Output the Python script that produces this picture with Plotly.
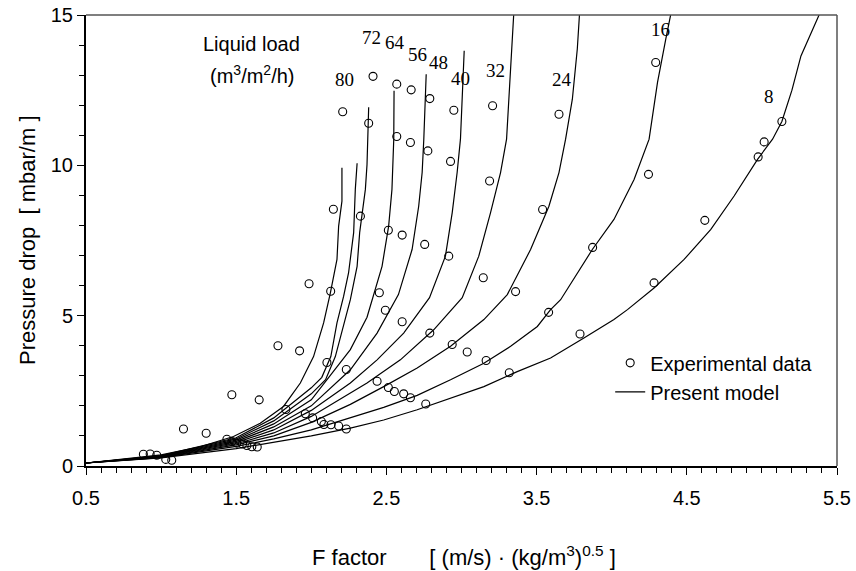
import plotly.graph_objects as go

# ---------------- data ----------------
# Experimental data (F factor, pressure drop)
exp_F = [0.882, 0.927, 0.971, 1.031, 1.071, 1.149, 1.30, 1.438, 1.471, 1.504, 1.542, 1.571, 1.604, 1.64,
         1.471, 1.653, 1.778, 1.922, 1.831, 1.96, 2.009, 2.067, 2.084, 2.131, 2.182, 2.233,
         2.104, 2.233, 1.985, 2.129, 2.147, 2.327, 2.209, 2.382,
         2.411, 2.569, 2.665, 2.789, 2.949, 3.207, 2.569,
         2.66, 2.776, 2.927, 3.187, 3.54,
         4.293, 3.649, 5.133, 5.015, 4.975, 4.245, 4.62, 4.282,
         2.513, 2.605, 2.755, 2.915, 3.145, 3.36, 3.873, 3.58,
         2.453, 2.493, 2.605, 2.789, 3.789,
         2.938, 3.038, 3.164, 3.318,
         2.438, 2.513, 2.553, 2.615, 2.66, 2.762]
exp_dP = [0.39, 0.40, 0.36, 0.22, 0.19, 1.23, 1.09, 0.89, 0.81, 0.76, 0.73, 0.68, 0.64, 0.63,
          2.37, 2.20, 4.00, 3.83, 1.88, 1.74, 1.60, 1.48, 1.38, 1.37, 1.33, 1.23,
          3.44, 3.21, 6.06, 5.81, 8.54, 8.31, 11.78, 11.40,
          12.96, 12.70, 12.51, 12.22, 11.83, 11.98, 10.96,
          10.76, 10.48, 10.13, 9.48, 8.53,
          13.42, 11.70, 11.46, 10.78, 10.28, 9.70, 8.17, 6.09,
          7.84, 7.68, 7.37, 6.98, 6.26, 5.80, 7.27, 5.11,
          5.76, 5.18, 4.80, 4.42, 4.39,
          4.04, 3.79, 3.51, 3.10,
          2.82, 2.61, 2.48, 2.40, 2.27, 2.06]

# Model curves, one per liquid load (m3/m2/h)
f8 = [0.5, 1.0, 1.5, 1.75, 2.0, 2.26, 2.482, 2.705, 2.927, 3.149, 3.371, 3.593, 3.815, 4.015, 4.105,
      4.282, 4.482, 4.66, 4.815, 4.971, 5.071, 5.133, 5.2, 5.26, 5.393]
dp8 = [0.1, 0.27, 0.58, 0.78, 1.0, 1.26, 1.53, 1.87, 2.26, 2.64, 3.14, 3.59, 4.26, 4.87, 5.2,
       5.92, 6.87, 7.87, 8.98, 10.2, 10.87, 11.46, 12.5, 13.64, 15.14]
f16 = [0.5, 1.0, 1.5, 1.75, 2.0, 2.26, 2.482, 2.705, 2.927, 3.149, 3.327, 3.505, 3.593, 3.66, 3.871,
       4.015, 4.149, 4.249, 4.305, 4.36, 4.398]
dp16 = [0.1, 0.28, 0.65, 0.9, 1.2, 1.6, 1.95, 2.35, 2.87, 3.42, 3.98, 4.64, 5.2, 5.53, 7.2,
        8.2, 9.53, 10.87, 12.76, 14.2, 15.14]
f24 = [0.5, 1.0, 1.5, 1.75, 2.0, 2.26, 2.482, 2.705, 2.927, 3.149, 3.305, 3.46, 3.582, 3.649, 3.693,
       3.738, 3.771, 3.787]
dp24 = [0.1, 0.29, 0.7, 1.0, 1.45, 2.05, 2.64, 3.26, 3.98, 4.87, 5.7, 7.2, 8.64, 9.76, 10.87,
        12.2, 13.87, 15.14]
f32 = [0.5, 1.0, 1.5, 1.75, 2.0, 2.26, 2.371, 2.593, 2.815, 3.005, 3.115, 3.193, 3.26, 3.3, 3.327, 3.349]
dp32 = [0.1, 0.3, 0.74, 1.1, 1.65, 2.42, 2.76, 3.53, 4.53, 5.6, 6.98, 8.42, 9.76, 10.87, 13.31, 15.14]
f40 = [0.5, 1.0, 1.5, 1.75, 2.0, 2.26, 2.438, 2.615, 2.787, 2.893, 2.938, 2.971, 2.993, 3.018]
dp40 = [0.1, 0.31, 0.78, 1.2, 1.85, 2.76, 3.53, 4.42, 5.6, 6.98, 8.42, 9.76, 10.87, 13.81]
f48 = [0.5, 1.0, 1.5, 1.75, 2.0, 2.26, 2.438, 2.58, 2.671, 2.715, 2.738, 2.749, 2.765]
dp48 = [0.1, 0.32, 0.82, 1.3, 2.0, 3.2, 4.42, 5.7, 7.2, 8.64, 9.76, 10.87, 13.03]
f56 = [0.5, 1.0, 1.5, 1.75, 2.0, 2.26, 2.371, 2.427, 2.471, 2.515, 2.537, 2.549, 2.551]
dp56 = [0.1, 0.33, 0.86, 1.4, 2.2, 3.87, 4.95, 5.87, 6.64, 7.98, 9.2, 10.87, 12.48]
f64 = [0.5, 1.0, 1.5, 1.75, 2.0, 2.095, 2.16, 2.215, 2.26, 2.305, 2.322, 2.36, 2.371, 2.382]
dp64 = [0.1, 0.34, 0.9, 1.5, 2.4, 2.87, 3.64, 4.64, 5.53, 6.64, 7.76, 9.2, 10.03, 11.93]
f72 = [0.5, 1.0, 1.5, 1.75, 2.0, 2.07, 2.13, 2.171, 2.215, 2.248, 2.282, 2.293, 2.305]
dp72 = [0.1, 0.35, 0.94, 1.6, 2.6, 2.95, 3.64, 4.76, 5.64, 6.42, 7.76, 9.2, 10.07]
f80 = [0.5, 1.0, 1.26, 1.482, 1.66, 1.815, 1.927, 2.015, 2.082, 2.127, 2.171, 2.182, 2.204, 2.204]
dp80 = [0.1, 0.37, 0.64, 0.98, 1.42, 1.98, 2.76, 3.64, 4.76, 5.76, 6.87, 7.98, 8.81, 9.92]

loads = ["8", "16", "24", "32", "40", "48", "56", "64", "72", "80"]
curves_F = [f8, f16, f24, f32, f40, f48, f56, f64, f72, f80]
curves_dP = [dp8, dp16, dp24, dp32, dp40, dp48, dp56, dp64, dp72, dp80]

# curve label anchors (F, dP)
label_F = [5.049, 4.327, 3.667, 3.229, 2.995, 2.849, 2.709, 2.56, 2.40, 2.22]
label_dP = [12.29, 14.51, 12.87, 13.14, 12.89, 13.42, 13.70, 14.09, 14.26, 12.87]

SANS = "Liberation Sans, Arial, sans-serif"
SERIF = "Liberation Serif, Times New Roman, serif"

fig = go.Figure()
fig.add_trace(go.Scatter(
    x=exp_F, y=exp_dP, mode="markers", name="Experimental data",
    marker=dict(symbol="circle-open", size=8, color="black", line=dict(width=1.1, color="black")),
))
for i, (fx, dy) in enumerate(zip(curves_F, curves_dP)):
    fig.add_trace(go.Scatter(
        x=fx, y=dy, mode="lines", name="Present model",
        legendgroup="model", showlegend=(i == 0),
        line=dict(color="black", width=1.2),
    ))

annotations = []
for lab, lx, ly in zip(loads, label_F, label_dP):
    annotations.append(dict(x=lx, y=ly, xref="x", yref="y", text=lab, showarrow=False,
                            font=dict(family=SERIF, size=19, color="black")))
annotations.append(dict(x=1.60, y=14.03, xref="x", yref="y", text="Liquid load", showarrow=False,
                        font=dict(family=SANS, size=20, color="black")))
annotations.append(dict(x=1.607, y=13.03, xref="x", yref="y", text="(m<sup>3</sup>/m<sup>2</sup>/h)",
                        showarrow=False, font=dict(family=SANS, size=20, color="black")))
# axis titles
annotations.append(dict(x=0.503, y=-0.2, xref="paper", yref="paper", yanchor="middle",
                        text="F factor" + "\u00a0" * 7 + "[ (m/s) \u00b7 (kg/m<sup>3</sup>)<sup>0.5</sup> ]",
                        showarrow=False, font=dict(family=SANS, size=22, color="black")))
annotations.append(dict(x=-0.078, y=0.5, xref="paper", yref="paper", textangle=-90,
                        xanchor="center", yanchor="middle",
                        text="Pressure drop\u00a0\u00a0[ mbar/m ]",
                        showarrow=False, font=dict(family=SANS, size=22, color="black")))

fig.update_layout(
    width=856, height=571,
    margin=dict(l=86, r=19, t=15, b=105, autoexpand=False),
    paper_bgcolor="white", plot_bgcolor="white",
    font=dict(family=SANS, size=20, color="black"),
    showlegend=True,
    legend=dict(x=0.698, y=0.272, xanchor="left", yanchor="top", bgcolor="rgba(0,0,0,0)",
                font=dict(family=SANS, size=20, color="black"), tracegroupgap=0),
    annotations=annotations,
    shapes=[
        dict(type="line", xref="paper", yref="paper", x0=0, x1=1, y0=1, y1=1,
             line=dict(color="#555", width=1.5)),
        dict(type="line", xref="paper", yref="paper", x0=1, x1=1, y0=0, y1=1,
             line=dict(color="#555", width=1.5)),
    ],
)
fig.update_xaxes(
    range=[0.5, 5.5], showgrid=False, zeroline=False, automargin=False,
    showline=True, linecolor="black", linewidth=2,
    tick0=0.5, dtick=1, ticks="outside", ticklen=7, tickwidth=1, tickcolor="black",
    tickformat=".1f", tickfont=dict(family=SANS, size=20), ticklabelstandoff=6,
    minor=dict(tick0=0.5, dtick=0.1, ticks="outside", ticklen=5, tickwidth=1, tickcolor="black"),
)
fig.update_yaxes(
    range=[0, 15], showgrid=False, zeroline=False, automargin=False,
    showline=True, linecolor="black", linewidth=2,
    tick0=0, dtick=5, ticks="outside", ticklen=7, tickwidth=1, tickcolor="black",
    tickfont=dict(family=SANS, size=20),
    minor=dict(dtick=1, ticks="outside", ticklen=5, tickwidth=1, tickcolor="black"),
)

fig.write_html("out.html")
